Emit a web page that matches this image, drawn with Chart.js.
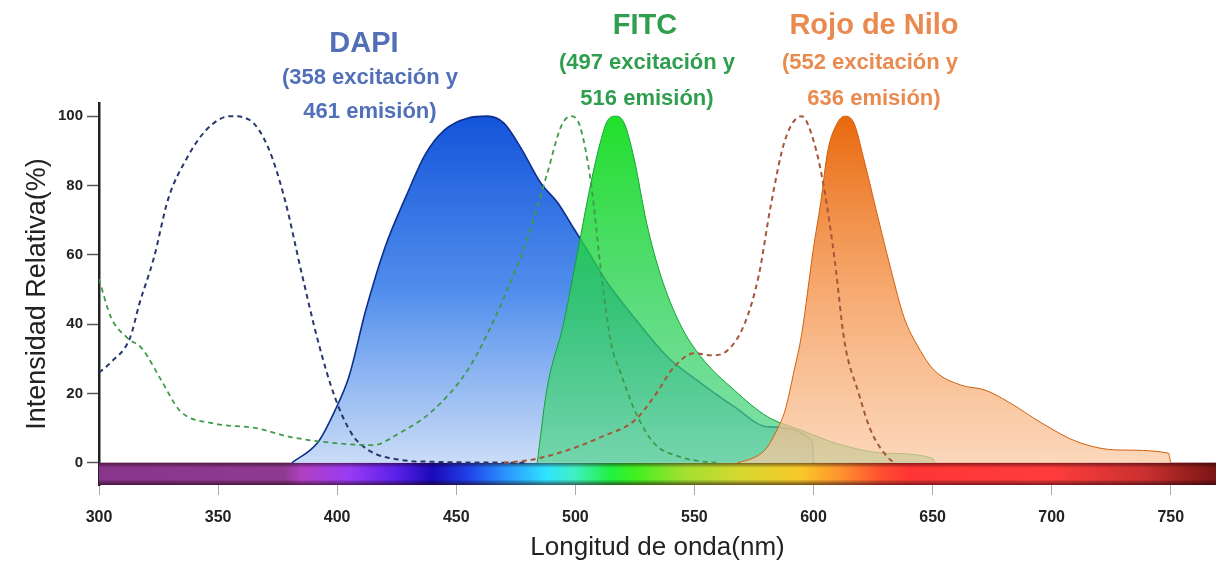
<!DOCTYPE html>
<html>
<head>
<meta charset="utf-8">
<script src="https://cdn.jsdelivr.net/npm/chart.js@4.4.1/dist/chart.umd.min.js"></script>
<style>
html,body{margin:0;padding:0;background:#fff;}
#wrap{width:1218px;height:566px;position:relative;}
</style>
</head>
<body>
<div id="wrap"><canvas id="c"></canvas></div>
<script>
// ---------- data ----------
const xTicks = [300, 350, 400, 450, 500, 550, 600, 650, 700, 750];
const yTicks = [0, 20, 40, 60, 80, 100];

// DAPI excitation (dashed navy)
const dapiExNm  = [300, 305, 313, 317, 323, 329, 337, 345, 355, 363, 371, 378, 385, 392, 399, 406, 413, 427, 440, 480];
const dapiExVal = [26, 29, 36, 46, 59, 76, 88, 96, 100, 99, 91, 76, 55, 35, 19, 8.5, 3.7, 0.8, 0.3, 0];

// DAPI emission (blue area)
const dapiEmNm  = [381, 392, 399, 405, 412, 420, 429, 437, 445, 455, 463, 470, 477, 485.5, 492.6, 499, 505, 513.6, 524.6, 538.6, 552.7, 566.7, 580.7, 599.5, 600];
const dapiEmVal = [0, 6, 15, 25, 44, 62, 77, 89, 96, 99.5, 100, 98, 91, 80.7, 75, 68, 61.4, 51.8, 42, 30.6, 23, 16.2, 10.4, 6.3, 0];

// FITC excitation (dashed green)
const fitcExNm  = [300, 305, 312, 318, 326, 334, 348, 366, 380, 399, 415, 426, 440, 455, 469, 480, 488, 494, 498, 502, 506.5, 511, 515, 519, 525, 533, 544, 552, 560];
const fitcExVal = [53, 42, 36, 33, 24, 15, 11.4, 10, 7.5, 5.7, 5.1, 8.5, 15, 27, 46, 65, 83, 97, 100, 97, 81, 54, 34.5, 26, 15, 5.7, 1.7, 0.5, 0];

// FITC emission (green area)
const fitcEmNm  = [484, 488, 495, 501, 506.5, 510.7, 513.5, 517, 520.5, 524.6, 530, 536, 544, 552.7, 566.7, 580.7, 594.8, 600, 610, 630, 650, 651];
const fitcEmVal = [0, 21, 40, 61, 80.6, 93, 98.7, 100, 98, 88, 69, 53.7, 40, 30.6, 21, 13.3, 9.4, 8, 5.5, 2.8, 1.3, 0];

// Rojo de Nilo excitation (dashed brown)
const nileExNm  = [470, 481, 497, 511, 525, 533, 541.5, 550, 557, 564, 571, 577, 582, 588, 595, 600, 604.5, 609, 613, 619, 624, 631, 634];
const nileExVal = [0, 0.8, 3.7, 7.5, 12.3, 19, 27.7, 31.6, 31, 32.5, 40, 54, 74, 93, 100, 93, 79, 58, 35, 20, 9.4, 1.7, 0];

// Rojo de Nilo emission (orange area)
const nileEmNm  = [568, 575, 580, 585, 588, 592, 595, 600, 603, 606, 610, 613, 617, 621, 627, 632.6, 638, 644, 650.7, 662, 672, 682, 696, 711, 728, 749, 750];
const nileEmVal = [0, 1.5, 4, 10, 15, 27, 37, 62, 75, 90, 98, 100, 98, 88, 71, 55.5, 42, 33.4, 26.7, 22.4, 21, 17.5, 11.4, 6, 3.7, 2.8, 0];

// visible spectrum bar
const barNm  = [300, 769];
const barVal = [-6.4, -6.4];
const spectrumNm     = [300, 378, 385, 405, 425, 440, 455, 470, 488, 500, 515, 525, 545, 570, 595, 612, 628, 640, 700, 740, 769];
const spectrumColors = ['#8a358c', '#8e3a90', '#b040c2', '#9a3af5', '#5a20e8', '#1a0ab8', '#2040e8', '#2a90ff', '#30e4ff', '#40f0c0', '#20f040', '#40f020', '#a0e030', '#d8d830', '#f8c828', '#ff9030', '#ff5030', '#ff3535', '#ff3c3c', '#c83030', '#7a1414'];

// annotation text
const dyeTitles = ['DAPI', 'FITC', 'Rojo de Nilo'];
const dyeLine1  = ['(358 excitación y', '(497 excitación y', '(552 excitación y'];
const dyeLine2  = ['461 emisión)', '516 emisión)', '636 emisión)'];

// ---------- helpers ----------
const FONT = '"Liberation Sans", Arial, sans-serif';
function pts(xs, ys) { return xs.map((x, i) => ({x: x, y: ys[i]})); }

function vGrad(top, mid, bottom) {
  return function (ctx) {
    const chart = ctx.chart;
    if (!chart.chartArea) return bottom;
    const ys = chart.scales.y;
    const y0 = ys.getPixelForValue(100), y1 = ys.getPixelForValue(0);
    const g = chart.ctx.createLinearGradient(0, y0, 0, y1);
    g.addColorStop(0, top);
    g.addColorStop(0.5, mid);
    g.addColorStop(1, bottom);
    return g;
  };
}
function rainbowFill(ctx) {
  const chart = ctx.chart;
  if (!chart.chartArea) return '#888';
  const xs = chart.scales.x;
  const first = spectrumNm[0], last = spectrumNm[spectrumNm.length - 1];
  const g = chart.ctx.createLinearGradient(xs.getPixelForValue(first), 0, xs.getPixelForValue(last), 0);
  spectrumNm.forEach((nm, i) => g.addColorStop((nm - first) / (last - first), spectrumColors[i]));
  return g;
}
function barShade(ctx) {
  const chart = ctx.chart;
  if (!chart.chartArea) return 'rgba(0,0,0,0)';
  const ys = chart.scales.y;
  const y0 = ys.getPixelForValue(0), y1 = ys.getPixelForValue(barVal[0]);
  const g = chart.ctx.createLinearGradient(0, y0, 0, y1);
  g.addColorStop(0, 'rgba(40,0,10,0.55)');
  g.addColorStop(0.22, 'rgba(0,0,0,0)');
  g.addColorStop(0.75, 'rgba(0,0,0,0)');
  g.addColorStop(1, 'rgba(40,0,10,0.6)');
  return g;
}

const titlePlugin = {
  id: 'dyeTitles',
  afterDraw(chart) {
    const c = chart.ctx;
    const colors = ['#5170b8', '#2f9e4e', '#e98a4f'];
    const xc = [[364, 370, 370], [645, 647, 647], [874, 870, 874]];
    const yc = [[44, 78, 112], [26, 63, 99], [26, 63, 99]];
    c.save();
    c.textAlign = 'center';
    c.textBaseline = 'middle';
    for (let i = 0; i < 3; i++) {
      c.fillStyle = colors[i];
      c.font = 'bold 29px ' + FONT;
      c.fillText(dyeTitles[i], xc[i][0], yc[i][0]);
      c.font = 'bold 22px ' + FONT;
      c.fillText(dyeLine1[i], xc[i][1], yc[i][1]);
      c.fillText(dyeLine2[i], xc[i][2], yc[i][2]);
    }
    c.restore();
  }
};

const lineBase = {pointRadius: 0, pointHoverRadius: 0, cubicInterpolationMode: 'monotone'};

new Chart(document.getElementById('c'), {
  type: 'line',
  data: {
    datasets: [
      Object.assign({}, lineBase, {label: 'Espectro', data: pts(barNm, barVal), fill: 'origin',
        backgroundColor: rainbowFill, borderColor: 'rgba(0,0,0,0)', borderWidth: 0, order: 20}),
      Object.assign({}, lineBase, {label: 'Sombra', data: pts(barNm, barVal), fill: 'origin',
        backgroundColor: barShade, borderColor: 'rgba(0,0,0,0)', borderWidth: 0, order: 19}),
      Object.assign({}, lineBase, {label: 'DAPI emisión', data: pts(dapiEmNm, dapiEmVal), fill: 'origin',
        backgroundColor: vGrad('rgba(20,84,218,1)', 'rgba(70,135,235,0.95)', 'rgba(196,216,246,0.9)'),
        borderColor: '#0c2f8c', borderWidth: 1.6, order: 12}),
      Object.assign({}, lineBase, {label: 'FITC emisión', data: pts(fitcEmNm, fitcEmVal), fill: 'origin',
        backgroundColor: vGrad('rgba(14,222,24,0.92)', 'rgba(40,210,80,0.78)', 'rgba(80,210,140,0.7)'),
        borderColor: '#14a035', borderWidth: 1, order: 11}),
      Object.assign({}, lineBase, {label: 'Rojo de Nilo emisión', data: pts(nileEmNm, nileEmVal), fill: 'origin',
        backgroundColor: vGrad('rgba(232,100,5,0.97)', 'rgba(244,150,80,0.82)', 'rgba(250,200,160,0.72)'),
        borderColor: '#d0600e', borderWidth: 1, order: 10}),
      Object.assign({}, lineBase, {label: 'DAPI excitación', data: pts(dapiExNm, dapiExVal), fill: false,
        borderColor: '#27376f', borderWidth: 2, borderDash: [5, 4], order: 3}),
      Object.assign({}, lineBase, {label: 'FITC excitación', data: pts(fitcExNm, fitcExVal), fill: false,
        borderColor: '#3f9a4a', borderWidth: 1.8, borderDash: [5, 4], order: 2}),
      Object.assign({}, lineBase, {label: 'Rojo de Nilo excitación', data: pts(nileExNm, nileExVal), fill: false,
        borderColor: '#a4573a', borderWidth: 2, borderDash: [5, 4], order: 1})
    ]
  },
  options: {
    responsive: true,
    maintainAspectRatio: false,
    animation: false,
    events: [],
    layout: {padding: {top: 103, right: 2, left: 0, bottom: 0}},
    plugins: {legend: {display: false}, tooltip: {enabled: false}},
    scales: {
      x: {
        type: 'linear', min: 300, max: 769,
        afterBuildTicks: s => { s.ticks = xTicks.map(v => ({value: v})); },
        afterFit: s => { s.height = 81; },
        ticks: {font: {family: FONT, size: 16, weight: 'bold'}, color: '#222', padding: 13, maxRotation: 0},
        grid: {drawOnChartArea: false, tickLength: 10, tickColor: '#aaa', tickWidth: 1},
        border: {display: false},
        title: {display: true, text: 'Longitud de onda(nm)', color: '#222',
          font: {family: FONT, size: 26}, padding: {top: 0, bottom: 3}}
      },
      y: {
        type: 'linear', min: -6.4, max: 103.8,
        afterBuildTicks: s => { s.ticks = yTicks.map(v => ({value: v})); },
        afterFit: s => { s.width = 99; },
        ticks: {font: {family: FONT, size: 15, weight: 'bold'}, color: '#222', padding: 4},
        grid: {drawOnChartArea: false, tickLength: 12, tickColor: '#555', tickWidth: 1.5},
        border: {display: true, color: '#222', width: 2.5},
        title: {display: true, text: 'Intensidad Relativa(%)', color: '#222',
          font: {family: FONT, size: 27}, padding: {top: 21, bottom: 0}}
      }
    }
  },
  plugins: [titlePlugin]
});
</script>
</body>
</html>
